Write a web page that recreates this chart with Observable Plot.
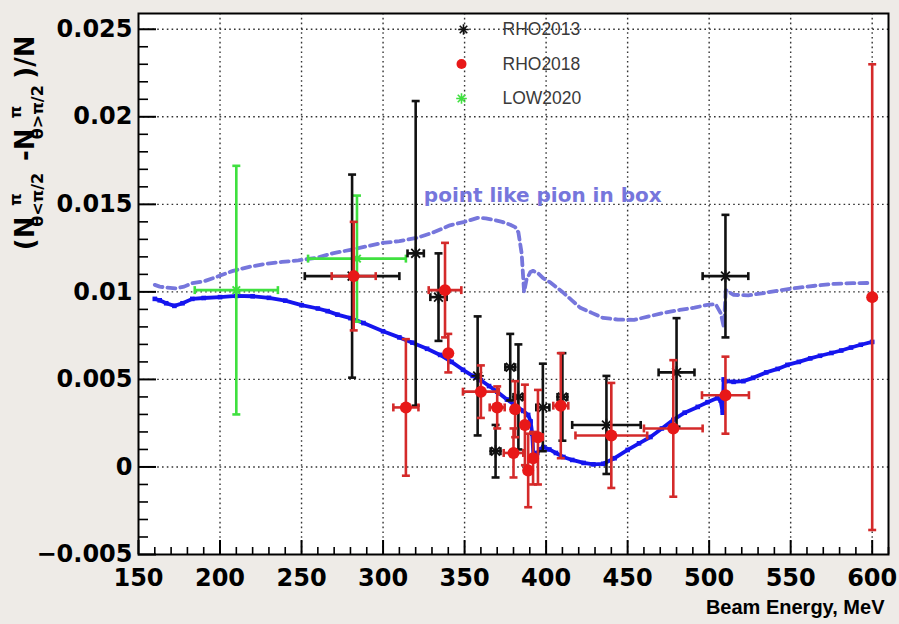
<!DOCTYPE html>
<html><head><meta charset="utf-8">
<script src="https://cdn.jsdelivr.net/npm/d3@7"></script>
<script src="https://cdn.jsdelivr.net/npm/@observablehq/plot@0.6"></script>
<style>
html,body{margin:0;padding:0;background:#eeebe7;}
#chart{width:899px;height:624px;}
</style></head><body><div id="chart"></div>
<script>
// ---- axes ----
const xTicks = [150,200,250,300,350,400,450,500,550,600];
const xTickLabels = ["150","200","250","300","350","400","450","500","550","600"];
const xMinor = [160,170,180,190,210,220,230,240,260,270,280,290,310,320,330,340,360,370,380,390,410,420,430,440,460,470,480,490,510,520,530,540,560,570,580,590,610];
const yTicks = [-0.005,0,0.005,0.01,0.015,0.02,0.025];
const yTickLabels = ["\u22120.005","0","0.005","0.01","0.015","0.02","0.025"];
const yMinor = [-0.004,-0.003,-0.002,-0.001,0.001,0.002,0.003,0.004,0.006,0.007,0.008,0.009,0.011,0.012,0.013,0.014,0.016,0.017,0.018,0.019,0.021,0.022,0.023,0.024];
const xLabel = "Beam Energy, MeV";
const yTitleMain = ["(N","-N",")/N"];
const yTitleSup = ["\u03c0","\u03c0"];
const yTitleSub = ["\u03b8<\u03c0/2","\u03b8>\u03c0/2"];

// ---- RHO2013 (black stars) ----
const r13E  = [281,320,334,358,369,378,383,398,410,437,480,510];
const r13V  = [0.0109,0.0122,0.0097,0.0052,0.0009,0.0057,0.0040,0.0034,0.0040,0.0024,0.0054,0.0109];
const r13dE = [29,5,5,0,3,3,3,4,3,21,11,14];
const r13dV = [0.0058,0.0087,0.0025,0.0034,0.0015,0.0019,0.0030,0.0025,0.0025,0.0028,0.0031,0.0035];

// ---- RHO2018 (red circles) ----
const r18E  = [282,314,338,340,360,370,380,381,387,389,392,395,409,440,478,510,600];
const r18V  = [0.0109,0.0034,0.0101,0.0065,0.0043,0.0034,0.0008,0.0033,0.0024,-0.0002,0.0005,0.0017,0.0035,0.0018,0.0022,0.0041,0.0097];
const r18dE = [13.5,7.7,10,0,11,4.6,6,0,0,2,0,3,4.6,22,18,14.4,0];
const r18dV = [0.0031,0.0039,0.0027,0.0011,0.0015,0.0012,0.0014,0.0016,0.0023,0.0021,0.0015,0.0027,0.0030,0.0030,0.0039,0.0022,0.0133];

// ---- LOW2020 (green stars) ----
const l20E  = [210,284];
const l20V  = [0.0101,0.0119];
const l20dE = [25.5,30];
const l20dV = [0.0071,0.0036];

// ---- full calculation (solid blue) ----
const fullE = [160,163,167,172,177,183,190,200,210,220,230,240,250,260,266,272,280,288,300,310,318,327,335,342,349,355,360,365,370,376,382,386,389,390.5,391.5,392.2,393,394.6,396,398.3,402,406,410.6,416,423,429,435,442,450,457,464,471,478,485,493,499,505,507,508.3,508.9,510,515,521,527,535,542,548,555,562,568,575,581,587,593,600];
const fullV = [0.0096,0.00952,0.00935,0.0092,0.00935,0.0096,0.00965,0.0097,0.00977,0.00975,0.00966,0.0095,0.00924,0.00905,0.0089,0.0087,0.0085,0.00822,0.00775,0.0074,0.0071,0.00675,0.0064,0.006,0.00555,0.0052,0.00495,0.00462,0.0043,0.00385,0.00345,0.0032,0.00297,0.0026,0.0019,0.0006,0.0004,0.0008,0.001,0.00114,0.001,0.0008,0.00057,0.0004,0.00023,0.00015,0.00018,0.0005,0.00097,0.00135,0.00171,0.0022,0.00269,0.0031,0.00343,0.0037,0.00394,0.0038,0.0031,0.0050,0.0049,0.00486,0.0049,0.00509,0.0054,0.0056,0.00583,0.006,0.0062,0.00635,0.00651,0.00665,0.00682,0.00698,0.00714];

// ---- point like pion in box (dashed) ----
const boxE = [160,163,167,173,178,183,190,198,208,218,228,238,248,259,269,280,290,300,310,321,331,341,350,358,363,368,373,378,381,383,385,386.5,388,390.4,392,394.8,398,403,410,416,421,428,435,444,454,463,472,482,491,499,504,507,509,510.2,512,515,524,534,544,554,565,577,588,600];
const boxV = [0.0104,0.0103,0.01025,0.0102,0.0103,0.0105,0.0106,0.01086,0.0112,0.01143,0.0116,0.01171,0.0118,0.01194,0.0122,0.0124,0.0126,0.0128,0.0129,0.01309,0.0134,0.0138,0.0140,0.01423,0.0142,0.01411,0.0140,0.01383,0.0137,0.0134,0.0122,0.0100,0.0107,0.01114,0.0112,0.01109,0.0108,0.01051,0.0100,0.0095,0.00909,0.0088,0.00851,0.00842,0.0084,0.0086,0.0088,0.00897,0.0091,0.00926,0.0093,0.0088,0.0080,0.0101,0.0100,0.00983,0.0098,0.00994,0.0101,0.01023,0.01035,0.01046,0.0105,0.01051];

const annotText = ["point like pion in box"];
const annotX = [325];
const annotY = [0.0155];

const legendLabels = ["RHO2013","RHO2018","LOW2020"];

// ---- layout / style ----
const W = 899, H = 624, mL = 138, mT = 13, mR = 11, mB = 70;
const fw = W - mL - mR, fh = H - mT - mB;
const cBlack = "#111", cRed = "#e81818", cRedBar = "#d42a2a", cGreen = "#3fe03f";
const cSolid = "#1515ee", cDash = "#7676dc";

const star8 = {draw(ctx, size){ const r = Math.sqrt(size)/2, d = r*0.7071;
  ctx.moveTo(-r,0); ctx.lineTo(r,0); ctx.moveTo(0,-r); ctx.lineTo(0,r);
  ctx.moveTo(-d,-d); ctx.lineTo(d,d); ctx.moveTo(-d,d); ctx.lineTo(d,-d);}};
const hcap = {draw(ctx, size){ const r = Math.sqrt(size)/2; ctx.moveTo(-r,0); ctx.lineTo(r,0);}};
const vcap = {draw(ctx, size){ const r = Math.sqrt(size)/2; ctx.moveTo(0,-r); ctx.lineTo(0,r);}};

function errMarks(E, V, dE, dV, bar, mark) {
  const idx = d3.range(E.length);
  const hx = idx.filter(i => dE[i] > 0);
  return [
    Plot.ruleX(idx, {x: i => E[i], y1: i => V[i]-dV[i], y2: i => V[i]+dV[i], stroke: bar, strokeWidth: 2.6}),
    Plot.ruleY(hx, {y: i => V[i], x1: i => E[i]-dE[i], x2: i => E[i]+dE[i], stroke: bar, strokeWidth: 2.6}),
    Plot.dot(idx, {x: i => E[i], y: i => V[i]-dV[i], symbol: hcap, r: 4.5, stroke: bar, strokeWidth: 2.6}),
    Plot.dot(idx, {x: i => E[i], y: i => V[i]+dV[i], symbol: hcap, r: 4.5, stroke: bar, strokeWidth: 2.6}),
    Plot.dot(hx, {x: i => E[i]-dE[i], y: i => V[i], symbol: vcap, r: 4.5, stroke: bar, strokeWidth: 2.6}),
    Plot.dot(hx, {x: i => E[i]+dE[i], y: i => V[i], symbol: vcap, r: 4.5, stroke: bar, strokeWidth: 2.6}),
    mark(idx)
  ];
}

const fi = d3.range(fullE.length), bi = d3.range(boxE.length);

const svg = Plot.plot({
  width: W, height: H, marginLeft: mL, marginTop: mT, marginRight: mR, marginBottom: mB,
  style: {background: "transparent", fontFamily: "DejaVu Sans"},
  x: {domain: [150, 610]},
  y: {domain: [-0.005, 0.0259]},
  marks: [
    Plot.frame({fill: "white", stroke: null}),
    Plot.ruleX(xTicks.slice(1), {x: d => d, stroke: "#333", strokeWidth: 1.4, strokeDasharray: "1.6,3.2"}),
    Plot.ruleY(yTicks.slice(1), {y: d => d, stroke: "#333", strokeWidth: 1.4, strokeDasharray: "1.6,3.2"}),
    // curves
    Plot.line(bi, {x: i => boxE[i], y: i => boxV[i], stroke: cDash, strokeWidth: 3.8, strokeDasharray: "8,5"}),
    Plot.line(fi, {x: i => fullE[i], y: i => fullV[i], stroke: cSolid, strokeWidth: 3.8}),
    Plot.dot(fi, {x: i => fullE[i], y: i => fullV[i], symbol: "square", r: 2.6, fill: cSolid}),
    // data
    ...errMarks(l20E, l20V, l20dE, l20dV, cGreen, idx => Plot.dot(idx, {x: i => l20E[i], y: i => l20V[i], symbol: star8, r: 6, stroke: cGreen, strokeWidth: 2})),
    ...errMarks(r13E, r13V, r13dE, r13dV, cBlack, idx => Plot.dot(idx, {x: i => r13E[i], y: i => r13V[i], symbol: star8, r: 7, stroke: cBlack, strokeWidth: 1.8})),
    ...errMarks(r18E, r18V, r18dE, r18dV, cRedBar, idx => Plot.dot(idx, {x: i => r18E[i], y: i => r18V[i], r: 6, fill: cRed, stroke: "none"})),
    // annotation
    Plot.text(d3.range(annotText.length), {x: i => annotX[i], y: i => annotY[i], text: i => annotText[i], textAnchor: "start", fill: cDash, fontSize: 20, fontWeight: "bold", fontFamily: "DejaVu Sans"}),
    // legend
    Plot.dot([0], {frameAnchor: "top-left", dx: 325, dy: 16, symbol: star8, r: 6, stroke: cBlack, strokeWidth: 1.6}),
    Plot.dot([0], {frameAnchor: "top-left", dx: 323, dy: 50.5, r: 5, fill: cRed}),
    Plot.dot([0], {frameAnchor: "top-left", dx: 323, dy: 85, symbol: star8, r: 6, stroke: cGreen, strokeWidth: 1.6}),
    ...legendLabels.map((t, i) => Plot.text([t], {frameAnchor: "top-left", dx: 364, dy: 16 + i*34.5, text: d => d, textAnchor: "start", lineAnchor: "middle", fontSize: 17.5, fontFamily: "Liberation Sans", fill: "#3a3a3a"})),
    // ticks inside
    Plot.tickX(xTicks, {x: d => d, insetTop: fh - 14, stroke: "black", strokeWidth: 2}),
    Plot.tickX(xMinor, {x: d => d, insetTop: fh - 7, stroke: "black", strokeWidth: 1.6}),
    Plot.tickY(yTicks, {y: d => d, insetRight: fw - 18, stroke: "black", strokeWidth: 2}),
    Plot.tickY(yMinor, {y: d => d, insetRight: fw - 10, stroke: "black", strokeWidth: 1.6}),
    Plot.frame({stroke: "black", strokeWidth: 2}),
    // axes
    Plot.axisX(xTicks, {anchor: "bottom", tickSize: 0, tickPadding: 14, label: null, tickFormat: d => xTickLabels[xTicks.indexOf(d)], fontSize: 24, fontWeight: "bold", fontFamily: "DejaVu Sans", fill: "black"}),
    Plot.axisY(yTicks, {anchor: "left", tickSize: 0, tickPadding: 6, label: null, tickFormat: d => yTickLabels[yTicks.indexOf(d)], fontSize: 24, fontWeight: "bold", fontFamily: "DejaVu Sans", fill: "black"}),
    Plot.text([xLabel], {frameAnchor: "bottom-right", dx: -4, dy: 53, text: d => d, textAnchor: "end", lineAnchor: "middle", fontSize: 20, fontWeight: "bold", fontFamily: "Liberation Sans", fill: "black"})
  ]
});
document.getElementById("chart").appendChild(svg);

// y-axis title with stacked super/subscripts
const g = d3.select(svg).append("g").attr("font-family", "DejaVu Sans").attr("font-weight", "bold").attr("fill", "black");
let pos = 0;
function piece(str, size, y) {
  const t = g.append("text").attr("font-size", size).attr("x", pos).attr("y", y).text(str);
  return t.node().getComputedTextLength();
}
for (let k = 0; k < yTitleMain.length; k++) {
  pos += piece(yTitleMain[k], 26, 0);
  if (k < yTitleSup.length) {
    const a = piece(yTitleSup[k], 16, -13);
    const b = piece(yTitleSub[k], 16, 9);
    pos += Math.max(a, b) + 1;
  }
}
g.attr("transform", `translate(34,${14 + pos}) rotate(-90)`);
</script>
</body></html>
